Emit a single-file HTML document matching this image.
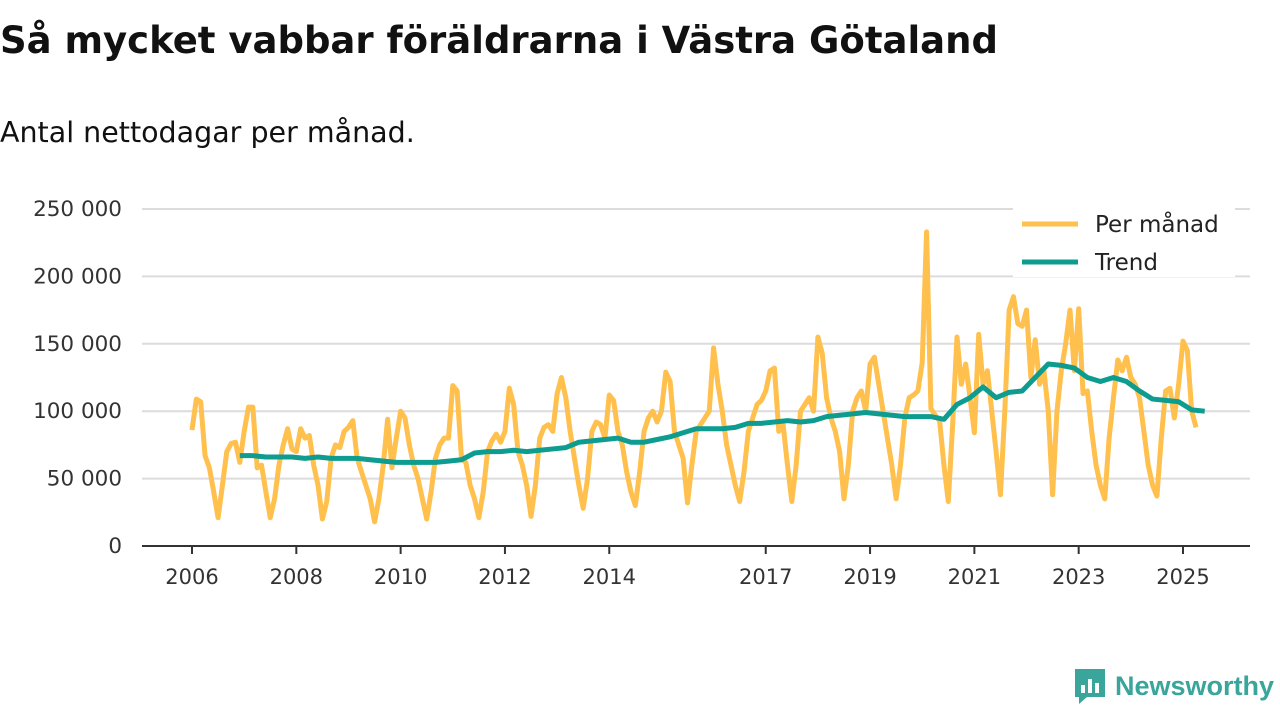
<!DOCTYPE html>
<html><head><meta charset="utf-8"><style>
body{margin:0;width:1280px;height:720px;background:#fff;font-family:"DejaVu Sans",sans-serif;overflow:hidden;position:relative}
h1{position:absolute;left:0;top:19px;margin:0;font-size:37px;font-weight:bold;color:#111;white-space:nowrap}
.sub{position:absolute;left:0;top:116px;font-size:28.5px;color:#111;white-space:nowrap}
</style></head><body>
<h1>Så mycket vabbar föräldrarna i Västra Götaland</h1>
<div class="sub">Antal nettodagar per månad.</div>
<svg id="chart" width="1280" height="720" style="position:absolute;left:0;top:0"></svg>
<script>
const startYear = 2006;
const monthly = [
86,109,107,67,58,40,21,45,70,76,77,62,
85,103,103,58,60,40,21,35,60,75,87,72,
70,87,80,82,60,45,20,33,65,75,73,85,
88,93,65,55,45,35,18,35,60,94,58,80,
100,95,75,60,50,35,20,40,65,75,80,80,
119,115,65,62,45,35,21,40,70,78,83,77,
85,117,105,70,60,45,22,45,80,88,90,85,
113,125,110,85,65,45,28,50,85,92,90,80,
112,108,85,75,55,40,30,55,85,95,100,92,
100,129,122,85,75,65,32,60,85,90,95,100,
147,120,100,75,60,45,33,55,85,95,105,108,
115,130,132,85,90,60,33,60,100,105,110,100,
155,143,110,95,85,70,35,60,100,110,115,100,
135,140,120,100,80,60,35,60,95,110,112,115,
136,233,102,97,93,60,33,90,155,120,135,110,
84,157,120,130,100,70,38,100,175,185,165,163,
175,125,153,120,130,100,38,100,130,150,175,130,
176,113,115,85,60,45,35,80,110,138,130,140,
125,120,110,85,60,45,37,80,115,117,95,120,
152,145,100,88];
const trendStart = 11;
const trendStep = 3;
const trend = [67,
67,66,66,66, 65,66,65,65, 65,64,63,62, 62,62,62,63, 64,69,70,70,
71,70,71,72, 73,77,78,79, 80,77,77,79, 81,84,87,87, 87,88,91,91,
92,93,92,93, 96,97,98,99, 98,97,96,96, 96,94,105,110, 118,110,114,115,
125,135,134,132, 125,122,125,122, 115,109,108,107, 101,100];
const yTicks = [0,50000,100000,150000,200000,250000];
const yLabels = ["0","50 000","100 000","150 000","200 000","250 000"];
const xTicks = [2006,2008,2010,2012,2014,2017,2019,2021,2023,2025];

const NS="http://www.w3.org/2000/svg";
const svg=document.getElementById('chart');
const FF='DejaVu Sans, sans-serif';
const x0=192,xPerYear=(1183-192)/19;
const X=m=>x0+m*xPerYear/12;
const Y=v=>546-v/250000*337;
function mk(t,a){const e=document.createElementNS(NS,t);for(const k in a)e.setAttribute(k,a[k]);svg.appendChild(e);return e;}
yTicks.forEach((v,i)=>{
  if(v>0){const g=mk('line',{x1:142,x2:1250,y1:Y(v),y2:Y(v),stroke:'#dcdcdc','stroke-width':2});
  
  }
  const t=mk('text',{x:122,y:Y(v)+7,'text-anchor':'end','font-size':21.5,fill:'#333','font-family':FF});
  t.textContent=yLabels[i];
  
  
});
const ax=mk('line',{x1:142,x2:1250,y1:546,y2:546,stroke:'#333','stroke-width':2});


xTicks.forEach(yr=>{
  const xx=X((yr-startYear)*12);
  const tk=mk('line',{x1:xx,x2:xx,y1:546,y2:554,stroke:'#333','stroke-width':2});
  
  
  const t=mk('text',{x:xx,y:584,'text-anchor':'middle','font-size':21,fill:'#333','font-family':FF});
  t.textContent=yr;
  
  
});
const pm=mk('polyline',{points:monthly.map((v,i)=>X(i)+','+Y(v*1000)).join(' '),fill:'none',stroke:'#ffc04d','stroke-width':5,'stroke-linejoin':'round'});


const tr=mk('polyline',{points:trend.map((v,i)=>X(trendStart+i*trendStep)+','+Y(v*1000)).join(' '),fill:'none',stroke:'#0d9c8f','stroke-width':5,'stroke-linejoin':'round'});


const lb=mk('rect',{x:1013,y:207,width:222,height:70,fill:'#fff'});


[['Per månad','#ffc04d',224],['Trend','#0d9c8f',262]].forEach(([n,c,y])=>{
  const l=mk('line',{x1:1022,x2:1078,y1:y,y2:y,stroke:c,'stroke-width':5});
  
  
  const t=mk('text',{x:1095,y:y+8,'font-size':23,fill:'#222','font-family':FF});
  t.textContent=n;
  
  
});
</script>
<div style="position:absolute;left:1073px;top:667px;display:flex;align-items:center">
<svg width="34" height="38" viewBox="0 0 34 38"><path d="M2 2h30v28H14l-8 7v-7H2z" fill="#3aa59a"/><rect x="8" y="18" width="4" height="8" fill="#fff"/><rect x="15" y="12" width="4" height="14" fill="#fff"/><rect x="22" y="16" width="4" height="10" fill="#fff"/></svg>
<span style="font-size:27px;font-weight:bold;color:#3aa59a;margin-left:8px;font-family:'Liberation Sans',sans-serif">Newsworthy</span></div>
</body></html>
